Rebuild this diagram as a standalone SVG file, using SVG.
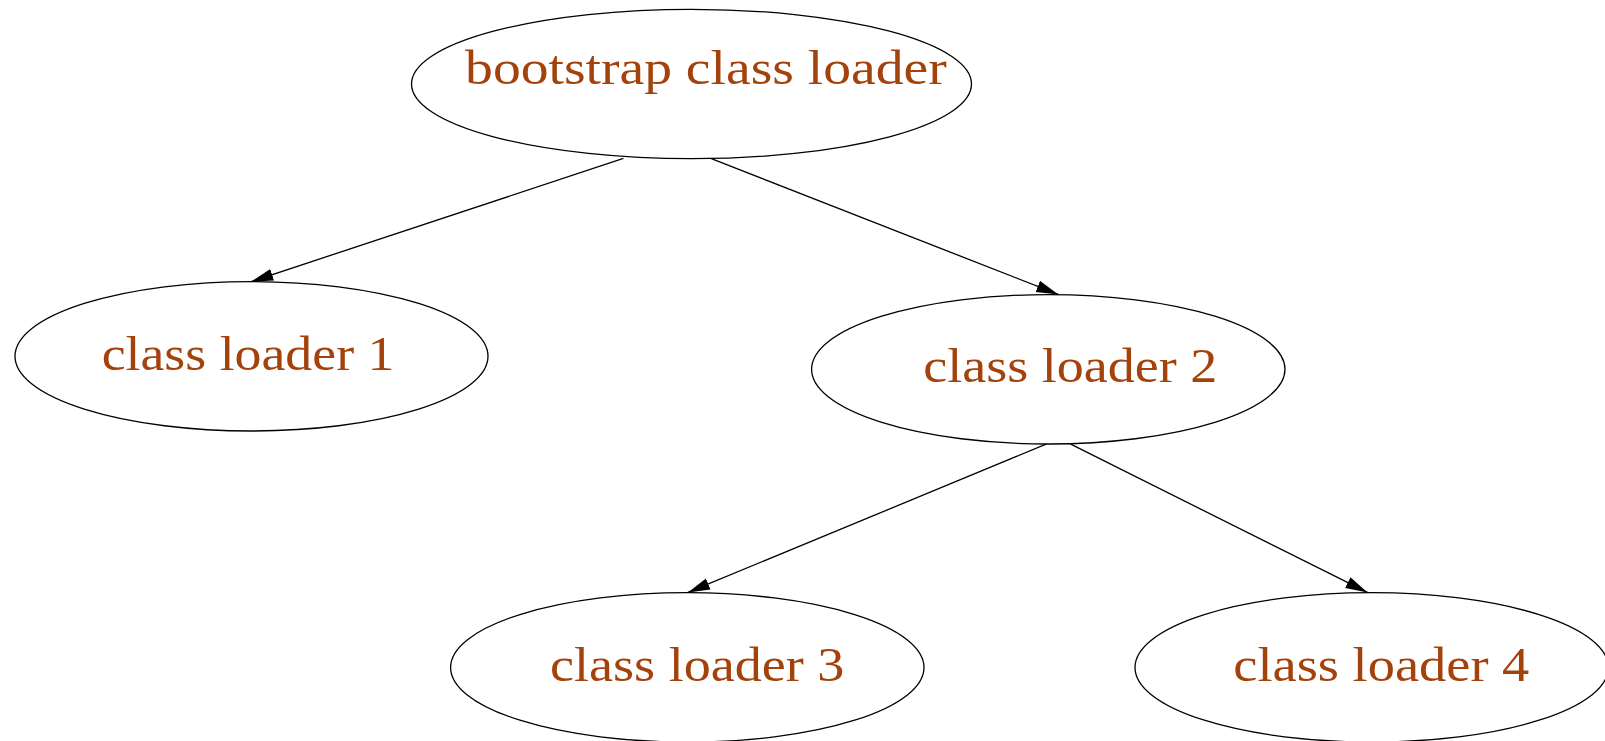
<svg xmlns="http://www.w3.org/2000/svg" width="1605" height="741" viewBox="0 0 1605 741">
<style>
  .node ellipse { fill: none; stroke: #000; stroke-width: 1.3; }
  .node text { font-family: "Liberation Serif", "Times New Roman", serif; font-size: 49px; fill: #A4420C; }
  .edge { stroke: #000; stroke-width: 1.3; fill: none; }
</style>
<defs>
  <marker id="arrow" markerUnits="userSpaceOnUse" markerWidth="24" markerHeight="14" refX="22" refY="6" orient="auto">
    <path d="M0,0 L22,6 L0,12 z" fill="#000"/>
  </marker>
</defs>
<rect width="1605" height="741" fill="#fff"/>
<g id="connectors">
  <line class="edge" x1="623.4" y1="158.4" x2="251.3" y2="281.6" marker-end="url(#arrow)"/>
  <line class="edge" x1="710.7" y1="158.4" x2="1058.3" y2="294.4" marker-end="url(#arrow)"/>
  <line class="edge" x1="1046.1" y1="444.2" x2="687.9" y2="592.4" marker-end="url(#arrow)"/>
  <line class="edge" x1="1070.7" y1="444.2" x2="1367.5" y2="592.4" marker-end="url(#arrow)"/>
</g>
<g id="bootstrap" class="node">
  <ellipse cx="691.5" cy="84" rx="280" ry="74.7"/>
  <text x="465.1" y="84" textLength="481.6" lengthAdjust="spacingAndGlyphs">bootstrap class loader</text>
</g>
<g id="cl1" class="node">
  <ellipse cx="251.5" cy="356.3" rx="236.5" ry="74.7"/>
  <text x="101.7" y="370" textLength="292.7" lengthAdjust="spacingAndGlyphs">class loader 1</text>
</g>
<g id="cl2" class="node">
  <ellipse cx="1048.3" cy="369.3" rx="236.7" ry="74.7"/>
  <text x="923.3" y="381.7" textLength="294" lengthAdjust="spacingAndGlyphs">class loader 2</text>
</g>
<g id="cl3" class="node">
  <ellipse cx="687.3" cy="667.4" rx="236.7" ry="74.7"/>
  <text x="550" y="680.7" textLength="294.3" lengthAdjust="spacingAndGlyphs">class loader 3</text>
</g>
<g id="cl4" class="node">
  <ellipse cx="1371.7" cy="667.4" rx="236.7" ry="74.7"/>
  <text x="1233.3" y="680.7" textLength="296" lengthAdjust="spacingAndGlyphs">class loader 4</text>
</g>
</svg>
